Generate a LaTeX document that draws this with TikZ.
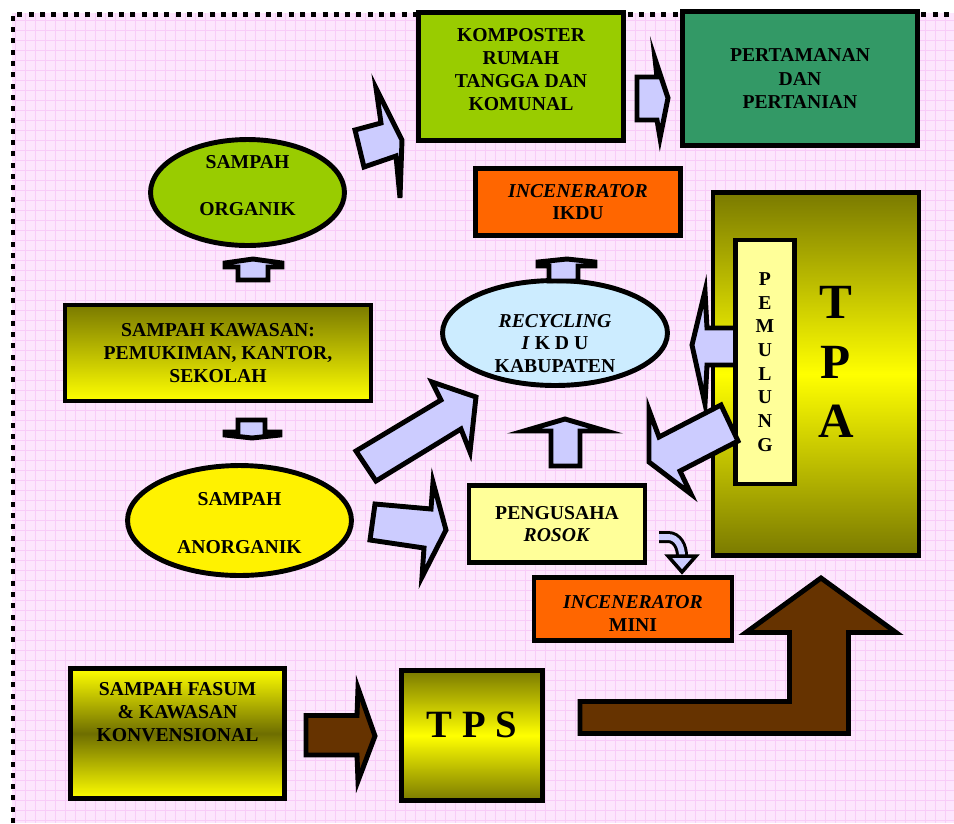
\documentclass[tikz,border=0pt]{standalone}
\usepackage{fontspec}
\setmainfont{Liberation Serif}
\usepackage{xcolor}
\usetikzlibrary{shapes.geometric}
\definecolor{leafgreen}{HTML}{99CC00}
\definecolor{seagreen}{HTML}{339966}
\definecolor{flame}{HTML}{FF6600}
\definecolor{paleyellow}{HTML}{FFFF99}
\definecolor{skyblue}{HTML}{CCECFF}
\definecolor{lavender}{HTML}{CCCCFF}
\definecolor{rust}{HTML}{663300}
\definecolor{olivedark}{HTML}{7A7A00}
\definecolor{olivemid}{HTML}{6E6E00}
\definecolor{pinkbg}{HTML}{FDE6FD}
\definecolor{pinkgrid}{HTML}{F8CCF8}
\tikzset{box/.style={rectangle,draw,line width=2.8pt,inner sep=0pt,align=center,font=\bfseries\fontsize{11.2}{13}\selectfont},
  oval/.style={ellipse,draw,line width=2.8pt,inner sep=0pt,align=center,font=\bfseries\fontsize{11.2}{13}\selectfont},
  every label/.style={align=center,inner sep=0pt,font=\bfseries\fontsize{11.2}{13}\selectfont},
  blk/.style={draw,line width=2.8pt,fill=lavender,line join=miter},
  brn/.style={draw,line width=2.8pt,fill=rust,line join=miter}}
\begin{document}
\begin{tikzpicture}[x=0.02cm,y=-0.02cm]
    \useasboundingbox (0,0) rectangle (954,823);
    \fill[pinkbg] (12,13) rectangle (954,823);
    \foreach \gx in {15,25,...,955} \draw[pinkgrid,line width=0.4pt] (\gx,13) -- (\gx,823);
    \foreach \gy in {20,30,...,820} \draw[pinkgrid,line width=0.4pt] (12,\gy) -- (954,\gy);
    \draw[line width=0.1cm,dash pattern=on 0.1cm off 0.126cm] (13,823) -- (13,14) -- (954,14);

    \node[box,fill=leafgreen,minimum width=4.1cm,minimum height=2.56cm,label={[yshift=4pt]center:KOMPOSTER\\RUMAH\\TANGGA DAN\\KOMUNAL}] (komposter) at (521,76.5) {};
    \node[box,fill=seagreen,minimum width=4.7cm,minimum height=2.68cm,font=\bfseries\fontsize{11.2}{13.2}\selectfont] (taman) at (800,78.5) {PERTAMANAN\\DAN\\PERTANIAN};
    \node[oval,fill=leafgreen,minimum width=3.88cm,minimum height=2.12cm,label={[yshift=4pt]center:SAMPAH\\[13.5pt]ORGANIK}] (organik) at (247.5,192.5) {};
    \node[box,fill=flame,minimum width=4.1cm,minimum height=1.34cm] (ikdu) at (578,202) {\textit{INCENERATOR}\\IKDU};
    \node[oval,fill=skyblue,minimum width=4.5cm,minimum height=2.1cm,label={[yshift=-6pt]center:\textit{RECYCLING}\\\textit{I} K D U\\KABUPATEN}] (recycling) at (555,333) {};
    \node[box,top color=olivedark,bottom color=yellow,minimum width=6.12cm,minimum height=1.92cm] (kawasan) at (218,353) {SAMPAH KAWASAN:\\PEMUKIMAN, KANTOR,\\SEKOLAH};
    \node[oval,fill=yellow,minimum width=4.48cm,minimum height=2.2cm,label={[yshift=-1.5pt]center:SAMPAH\\[14.5pt]ANORGANIK}] (anorganik) at (239.5,520.5) {};
    \node[box,fill=paleyellow,minimum width=3.52cm,minimum height=1.54cm] (rosok) at (557,524) {PENGUSAHA\\\textit{ROSOK}};
    \node[box,fill=flame,minimum width=3.96cm,minimum height=1.26cm,label={[yshift=-2.5pt]center:\textit{INCENERATOR}\\MINI}] (mini) at (633,609) {};
    \node[box,top color=olivedark,bottom color=olivedark,middle color=yellow,minimum width=4.12cm,minimum height=7.26cm] (tpa) at (816,374) {};
    \node[font=\bfseries\fontsize{28}{34}\selectfont,align=center] (tpaname) at (836,362) {T\\P\\A};
    \node[box,top color=yellow,bottom color=yellow,middle color=olivemid,minimum width=4.28cm,minimum height=2.6cm,label={[yshift=12pt]center:SAMPAH FASUM\\\& KAWASAN\\KONVENSIONAL}] (fasum) at (177.5,733.5) {};
    \node[box,top color=olivedark,bottom color=olivedark,middle color=yellow,minimum width=2.82cm,minimum height=2.6cm,label={[yshift=6pt,font=\bfseries\fontsize{22}{26}\selectfont]center:T P S}] (tps) at (472,735.5) {};

    \draw[blk] (238,280) -- (238,267) -- (225,267) -- (225,263) -- (253,259) -- (282,263) -- (282,267) -- (268,267) -- (268,280) -- cycle;
    \draw[blk] (238,420) -- (265,420) -- (265,432) -- (280,432) -- (280,435) -- (252,438) -- (225,435) -- (225,432) -- (238,432) -- cycle;
    \draw[blk] (549,281) -- (549,266) -- (538,266) -- (538,262) -- (567,259) -- (595,262) -- (595,266) -- (578,266) -- (578,281) -- cycle;
    \draw[blk] (551,466) -- (551,431) -- (524,431) -- (565,419) -- (606,431) -- (580,431) -- (580,466) -- cycle;
    \draw[blk] (637,77) -- (657,77) -- (655,59) -- (668,98) -- (660,138) -- (657,120) -- (637,120) -- cycle;
    \draw[blk] (355,130) -- (381,123) -- (376,88) -- (402,140) -- (400,198) -- (396,156) -- (364,167) -- cycle;
    \draw[blk] (356,451) -- (441,400) -- (432,382) -- (476,397) -- (470,452) -- (461,429) -- (376,481) -- cycle;
    \draw[blk] (375,504) -- (431,509) -- (433,482) -- (446,530) -- (422,577) -- (424,548) -- (370,540) -- cycle;
    \draw[blk] (736,328) -- (707,328) -- (705,291) -- (692,345) -- (705,404) -- (707,365) -- (736,365) -- cycle;
    \draw[line width=0.06cm,double=lavender,double distance=0.12cm] (659,537) -- (668,537) to[out=0,in=90] (682,556);
    \draw[blk,line width=2pt] (668,556) -- (696,556) -- (682,572) -- cycle;

    \node[box,fill=paleyellow,minimum width=1.18cm,minimum height=4.88cm,font=\bfseries\fontsize{11.2}{13.5}\selectfont] (pemulung) at (765,362) {P\\E\\M\\U\\L\\U\\N\\G};
    \draw[blk] (721,405) -- (659,437) -- (649,410) -- (649,462) -- (691,494) -- (680,471) -- (738,441) -- cycle;

    \draw[brn] (306,715.5) -- (357,715.5) -- (358,688) -- (375,736) -- (358,781) -- (357,755) -- (306,755) -- cycle;
    \draw[brn] (580,701.5) -- (789.5,701.5) -- (789.5,632.5) -- (746,632.5) -- (821,578) -- (896,632.5) -- (848.5,632.5) -- (848.5,733.5) -- (580,733.5) -- cycle;
\end{tikzpicture}
\end{document}
